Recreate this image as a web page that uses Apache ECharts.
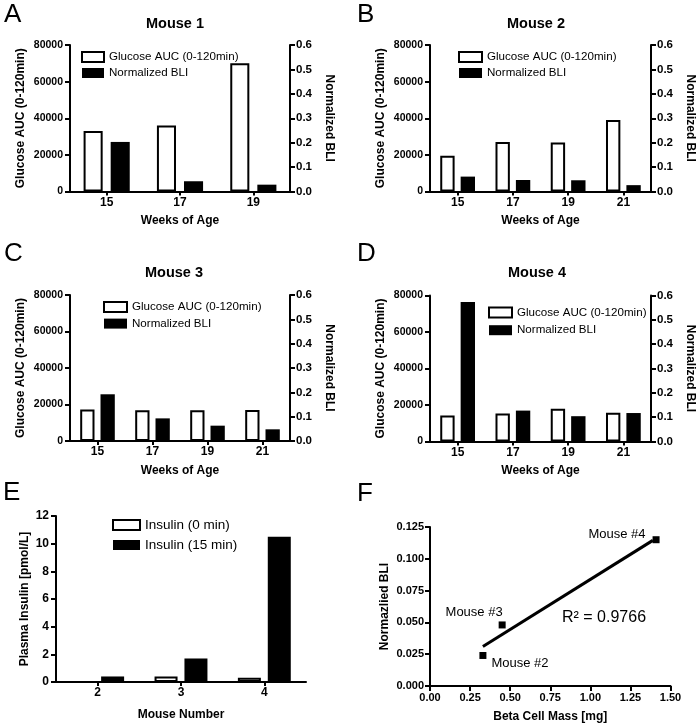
<!DOCTYPE html>
<html>
<head>
<meta charset="utf-8">
<script src="https://cdn.jsdelivr.net/npm/echarts@6/dist/echarts.min.js"></script>
<style>
html,body{margin:0;padding:0;background:#fff;}
#c{width:697px;height:727px;}
</style>
</head>
<body>
<div id="c"></div>
<script>
// ---------- data ----------
const weeksA = ['15', '17', '19'];
const weeksBCD = ['15', '17', '19', '21'];
const glucoseM1 = [33000, 36000, 70000];
const bliM1 = [0.203, 0.042, 0.028];
const glucoseM2 = [19500, 27000, 26700, 39000];
const bliM2 = [0.061, 0.047, 0.046, 0.026];
const glucoseM3 = [17200, 16800, 16900, 17000];
const bliM3 = [0.192, 0.093, 0.063, 0.048];
const glucoseM4 = [14200, 15300, 18000, 15800];
const bliM4 = [0.573, 0.127, 0.104, 0.117];
const mouseNumbers = ['2', '3', '4'];
const insulin0 = [0, 0.4, 0.3];
const insulin15 = [0.4, 1.7, 10.5];
const betaCellMass = [0.33, 0.45, 1.41];
const bliAtMass = [0.024, 0.048, 0.115];
const pointNames = ['Mouse #2', 'Mouse #3', 'Mouse #4'];
const fitX = [0.33, 1.39];
const fitY = [0.031, 0.1145];
const r2Text = '0.9766';

// ---------- styling helpers ----------
const FONT = 'Liberation Sans, Arial, Helvetica, sans-serif';
const BLACK = '#000';
const nameStyle = { fontFamily: FONT, fontWeight: 'bold', fontSize: 12, color: BLACK };
const lineStyle = { color: BLACK, width: 2 };

function catAxis(gridIndex, cats, name, nameGap) {
  return {
    type: 'category', gridIndex, data: cats,
    name, nameLocation: 'middle', nameGap, nameTextStyle: nameStyle,
    axisLine: { show: true, onZero: false, lineStyle },
    axisTick: { show: true, alignWithLabel: true, length: 4, lineStyle },
    axisLabel: { interval: 0, margin: 5, color: BLACK, fontFamily: FONT, fontWeight: 'bold', fontSize: 12 },
    splitLine: { show: false }
  };
}
function valAxis(o) {
  return {
    type: 'value', gridIndex: o.grid, position: o.pos || 'left',
    min: o.min, max: o.max, interval: o.interval,
    name: o.name, nameLocation: 'middle', nameGap: o.gap, nameRotate: o.rotate,
    nameTextStyle: nameStyle,
    axisLine: { show: true, onZero: false, lineStyle },
    axisTick: { show: true, length: 5, lineStyle },
    axisLabel: { margin: o.margin || 7, color: BLACK, fontFamily: FONT, fontWeight: 'bold', fontSize: o.fs || 11, formatter: o.fmt },
    splitLine: { show: false }
  };
}
const intFmt = v => String(v);
const fmt1 = v => v.toFixed(1);

const grids = [
  { left: 70, top: 45, width: 220, height: 146.5 },
  { left: 430, top: 45, width: 221, height: 146.5 },
  { left: 70, top: 295, width: 220, height: 146 },
  { left: 430, top: 295.5, width: 221, height: 146 },
  { left: 56, top: 516, width: 250, height: 166 },
  { left: 430, top: 527, width: 240.5, height: 159 }
].map(g => Object.assign({ outerBoundsMode: 'none', containLabel: false }, g));

const xAxes = [
  catAxis(0, weeksA, 'Weeks of Age', 23),
  catAxis(1, weeksBCD, 'Weeks of Age', 23),
  catAxis(2, weeksBCD, 'Weeks of Age', 24),
  catAxis(3, weeksBCD, 'Weeks of Age', 23),
  catAxis(4, mouseNumbers, 'Mouse Number', 27),
  {
    type: 'value', gridIndex: 5, min: 0, max: 1.5, interval: 0.25,
    name: 'Beta Cell Mass [mg]', nameLocation: 'middle', nameGap: 25, nameTextStyle: nameStyle,
    axisLine: { show: true, onZero: false, lineStyle },
    axisTick: { show: true, length: 5, lineStyle },
    axisLabel: { margin: 6, color: BLACK, fontFamily: FONT, fontWeight: 'bold', fontSize: 11, formatter: v => v.toFixed(2) },
    splitLine: { show: false }
  }
];

const yAxes = [];
for (let g = 0; g < 4; g++) {
  yAxes.push(valAxis({ grid: g, pos: 'left', min: 0, max: 80000, interval: 20000, fmt: intFmt,
    name: 'Glucose AUC (0-120min)', gap: 43, fs: 10.5 }));
  yAxes.push(valAxis({ grid: g, pos: 'right', min: 0, max: 0.6, interval: 0.1, fmt: fmt1,
    name: 'Normalized BLI', gap: 33, rotate: -90, margin: 6, fs: 11.5 }));
}
yAxes.push(valAxis({ grid: 4, pos: 'left', min: 0, max: 12, interval: 2, fmt: intFmt,
  name: 'Plasma Insulin [pmol/L]', gap: 25, fs: 12, margin: 7 }));
yAxes.push(valAxis({ grid: 5, pos: 'left', min: 0, max: 0.125, interval: 0.025, fmt: v => v.toFixed(3),
  name: 'Normazlied BLI', gap: 39, fs: 11, margin: 6 }));

const GLU = 'Glucose AUC (0-120min)';
const BLI = 'Normalized BLI';
const whiteBar = { color: '#fff', borderColor: BLACK, borderWidth: 2 };
const blackBar = { color: BLACK, borderColor: BLACK, borderWidth: 0 };

const series = [];
const gluSets = [glucoseM1, glucoseM2, glucoseM3, glucoseM4];
const bliSets = [bliM1, bliM2, bliM3, bliM4];
for (let g = 0; g < 4; g++) {
  series.push({ type: 'bar', name: GLU, xAxisIndex: g, yAxisIndex: 2 * g, data: gluSets[g],
    barWidth: '26%', barGap: '42%', itemStyle: whiteBar, silent: true });
  series.push({ type: 'bar', name: BLI, xAxisIndex: g, yAxisIndex: 2 * g + 1, data: bliSets[g],
    barWidth: '26%', barGap: '42%', itemStyle: blackBar, silent: true });
}
series.push({ type: 'bar', name: 'Insulin (0 min)', xAxisIndex: 4, yAxisIndex: 8, data: insulin0,
  barWidth: '27.6%', barGap: '30%', itemStyle: whiteBar, silent: true });
series.push({ type: 'bar', name: 'Insulin (15 min)', xAxisIndex: 4, yAxisIndex: 8, data: insulin15,
  barWidth: '27.6%', barGap: '30%', itemStyle: blackBar, silent: true });

series.push({ type: 'line', name: 'fit', xAxisIndex: 5, yAxisIndex: 9,
  data: fitX.map((x, i) => [x, fitY[i]]), symbol: 'none',
  lineStyle: { color: BLACK, width: 3 }, silent: true, z: 2 });

const labelPlacement = [
  { position: 'right', offset: [0, 8] },
  { position: 'left', offset: [9, -13] },
  { position: 'left', offset: [-2, -5] }
];
series.push({ type: 'scatter', name: 'points', xAxisIndex: 5, yAxisIndex: 9,
  symbol: 'rect', symbolSize: 7, itemStyle: { color: BLACK, opacity: 1 }, silent: true, z: 3,
  data: betaCellMass.map((x, i) => ({
    value: [x, bliAtMass[i]],
    label: Object.assign({ show: true, formatter: pointNames[i], color: '#000',
      fontFamily: FONT, fontSize: 13, distance: 5, opacity: 1,
      textBorderWidth: 0, textShadowBlur: 0 }, labelPlacement[i])
  }))
});

function legend(names, left, top, w, fs, lh, gap, styles) {
  return {
    data: names.map((n, i) => ({ name: n, itemStyle: styles[i] })),
    orient: 'vertical', left, top, itemWidth: w, itemHeight: 10, itemGap: gap, padding: 0,
    icon: 'rect', selectedMode: false,
    textStyle: { fontFamily: FONT, fontSize: fs, color: BLACK, lineHeight: lh }
  };
}
const gs = [whiteBar, blackBar];
const legends = [
  legend([GLU, BLI], 81, 50, 22, 11.6, 14, 2, gs),
  legend([GLU, BLI], 458, 50, 23, 11.6, 14, 2, gs),
  legend([GLU, BLI], 103, 300, 23, 11.6, 14, 2.6, gs),
  legend([GLU, BLI], 488, 305.5, 23, 11.6, 14, 3.7, gs),
  legend(['Insulin (0 min)', 'Insulin (15 min)'], 112, 517, 27, 13.5, 16, 4, gs)
];

function txt(x, y, text, font, align) {
  return { type: 'text', x, y, silent: true,
    style: { text, font, fill: BLACK, align: align || 'center', verticalAlign: 'middle',
      textAlign: align || 'center', textVerticalAlign: 'middle' } };
}
const letterFont = '26px ' + FONT;
const titleFont = 'bold 14.5px ' + FONT;
const graphics = [
  txt(4, 15, 'A', letterFont, 'left'),
  txt(357, 15, 'B', letterFont, 'left'),
  txt(4, 254, 'C', letterFont, 'left'),
  txt(357, 254, 'D', letterFont, 'left'),
  txt(3, 493, 'E', letterFont, 'left'),
  txt(357, 494, 'F', letterFont, 'left'),
  txt(175, 24, 'Mouse 1', titleFont),
  txt(536, 24, 'Mouse 2', titleFont),
  txt(174, 273, 'Mouse 3', titleFont),
  txt(537, 273, 'Mouse 4', titleFont),
  txt(562, 618, 'R\u00B2 = ' + r2Text, '16px ' + FONT, 'left')
];

const chart = echarts.init(document.getElementById('c'), null, { renderer: 'canvas' });
chart.setOption({
  animation: false,
  backgroundColor: '#fff',
  grid: grids,
  xAxis: xAxes,
  yAxis: yAxes,
  legend: legends,
  series,
  graphic: graphics
});
</script>
</body>
</html>
